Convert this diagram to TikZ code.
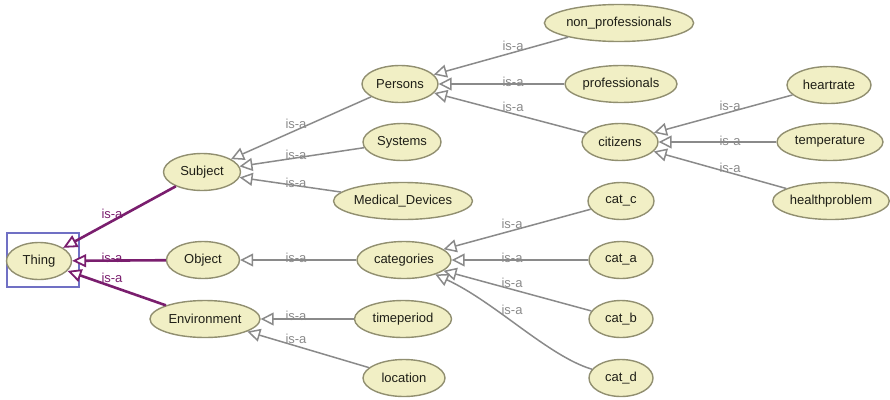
\documentclass[tikz,border=0pt]{standalone}
\usepackage{fontspec}
\setmainfont{Liberation Sans}
\usetikzlibrary{shapes.geometric,arrows.meta}
\definecolor{classfill}{RGB}{241,239,197}
\definecolor{classline}{RGB}{145,143,112}
\definecolor{classtext}{RGB}{30,30,22}
\definecolor{isagrey}{RGB}{138,138,138}
\definecolor{isapurple}{RGB}{122,30,110}
\definecolor{selblue}{RGB}{112,112,196}

\begin{document}
\begin{tikzpicture}[x=1pt,y=-1pt,
  cls/.style={ellipse, draw=classline, fill=classfill, line width=1.4pt,
    minimum height=37pt, inner sep=0pt, font=\fontsize{13}{15}\selectfont, text=classtext},
  isa/.style={draw=isagrey, line width=1.5pt,
    -{Triangle[open, length=13pt, width=13pt, fill=white]}},
  isatop/.style={draw=isapurple, line width=2.6pt,
    -{Triangle[open, length=14pt, width=13pt, fill=white, line width=1.8pt]}},
  lbl/.style={font=\fontsize{13}{15}\selectfont, text=isagrey, inner sep=0pt},
  lbltop/.style={lbl, text=isapurple},
]
\useasboundingbox (0,0) rectangle (890,399);

% selection frame around the root class
\node[draw=selblue, line width=2.5pt, minimum width=72pt, minimum height=54pt, inner sep=0pt] (sel) at (43,260) {};

% classes
\node[cls, minimum width=65pt]  (thing)    at (39,261)  {Thing};
\node[cls, minimum width=77pt]  (subject)  at (202,172) {Subject};
\node[cls, minimum width=73pt]  (object)   at (203,260) {Object};
\node[cls, minimum width=110pt] (env)      at (205,319) {Environment};
\node[cls, minimum width=76pt]  (persons)  at (400,84)  {Persons};
\node[cls, minimum width=78pt]  (systems)  at (402,142) {Systems};
\node[cls, minimum width=134pt] (medical)  at (403,201) {Medical\_Devices};
\node[cls, minimum width=94pt]  (categories) at (404,260) {categories};
\node[cls, minimum width=97pt]  (timeperiod) at (403,319) {timeperiod};
\node[cls, minimum width=82pt]  (location) at (404,378) {location};
\node[cls, minimum width=142pt] (nonprof)  at (619,23)  {non\_professionals};
\node[cls, minimum width=112pt] (prof)     at (621,84)  {professionals};
\node[cls, minimum width=76pt]  (citizens) at (620,142) {citizens};
\node[cls, minimum width=66pt]  (catc)     at (621,201) {cat\_c};
\node[cls, minimum width=64pt]  (cata)     at (621,260) {cat\_a};
\node[cls, minimum width=64pt]  (catb)     at (621,319) {cat\_b};
\node[cls, minimum width=64pt]  (catd)     at (621,378) {cat\_d};
\node[cls, minimum width=84pt]  (heartrate) at (829,85) {heartrate};
\node[cls, minimum width=106pt] (temperature) at (830,142) {temperature};
\node[cls, minimum width=112pt] (health)   at (831,201) {healthproblem};

% subclass links to the root
\draw[isatop] (subject) -- (thing);
\draw[isatop] (object) -- (thing);
\draw[isatop] (env) -- (thing);

% subclass links
\draw[isa] (persons) -- (subject);
\draw[isa] (systems) -- (subject);
\draw[isa] (medical) -- (subject);
\draw[isa] (categories) -- (object);
\draw[isa] (timeperiod) -- (env);
\draw[isa] (location) -- (env);
\draw[isa] (nonprof) -- (persons);
\draw[isa] (prof) -- (persons);
\draw[isa] (citizens) -- (persons);
\draw[isa] (heartrate) -- (citizens);
\draw[isa] (temperature) -- (citizens);
\draw[isa] (health) -- (citizens);
\draw[isa] (catc) -- (categories);
\draw[isa] (cata) -- (categories);
\draw[isa] (catb) -- (categories);
\draw[isa] (catd) .. controls (548,356) and (495,302) .. (categories);

% link labels
\node[lbltop] (l1) at (112,214) {is-a};
\node[lbltop] (l2) at (112,258) {is-a};
\node[lbltop] (l3) at (112,278) {is-a};
\node[lbl] (l4)  at (296,124) {is-a};
\node[lbl] (l5)  at (296,155) {is-a};
\node[lbl] (l6)  at (296,183) {is-a};
\node[lbl] (l7)  at (296,258) {is-a};
\node[lbl] (l8)  at (296,316) {is-a};
\node[lbl] (l9)  at (296,339) {is-a};
\node[lbl] (l10) at (513,46)  {is-a};
\node[lbl] (l11) at (513,82)  {is-a};
\node[lbl] (l12) at (513,107) {is-a};
\node[lbl] (l13) at (730,106) {is-a};
\node[lbl] (l14) at (730,141) {is-a};
\node[lbl] (l15) at (730,168) {is-a};
\node[lbl] (l16) at (512,224) {is-a};
\node[lbl] (l17) at (512,258) {is-a};
\node[lbl] (l18) at (512,283) {is-a};
\node[lbl] (l19) at (512,310) {is-a};
\end{tikzpicture}
\end{document}
